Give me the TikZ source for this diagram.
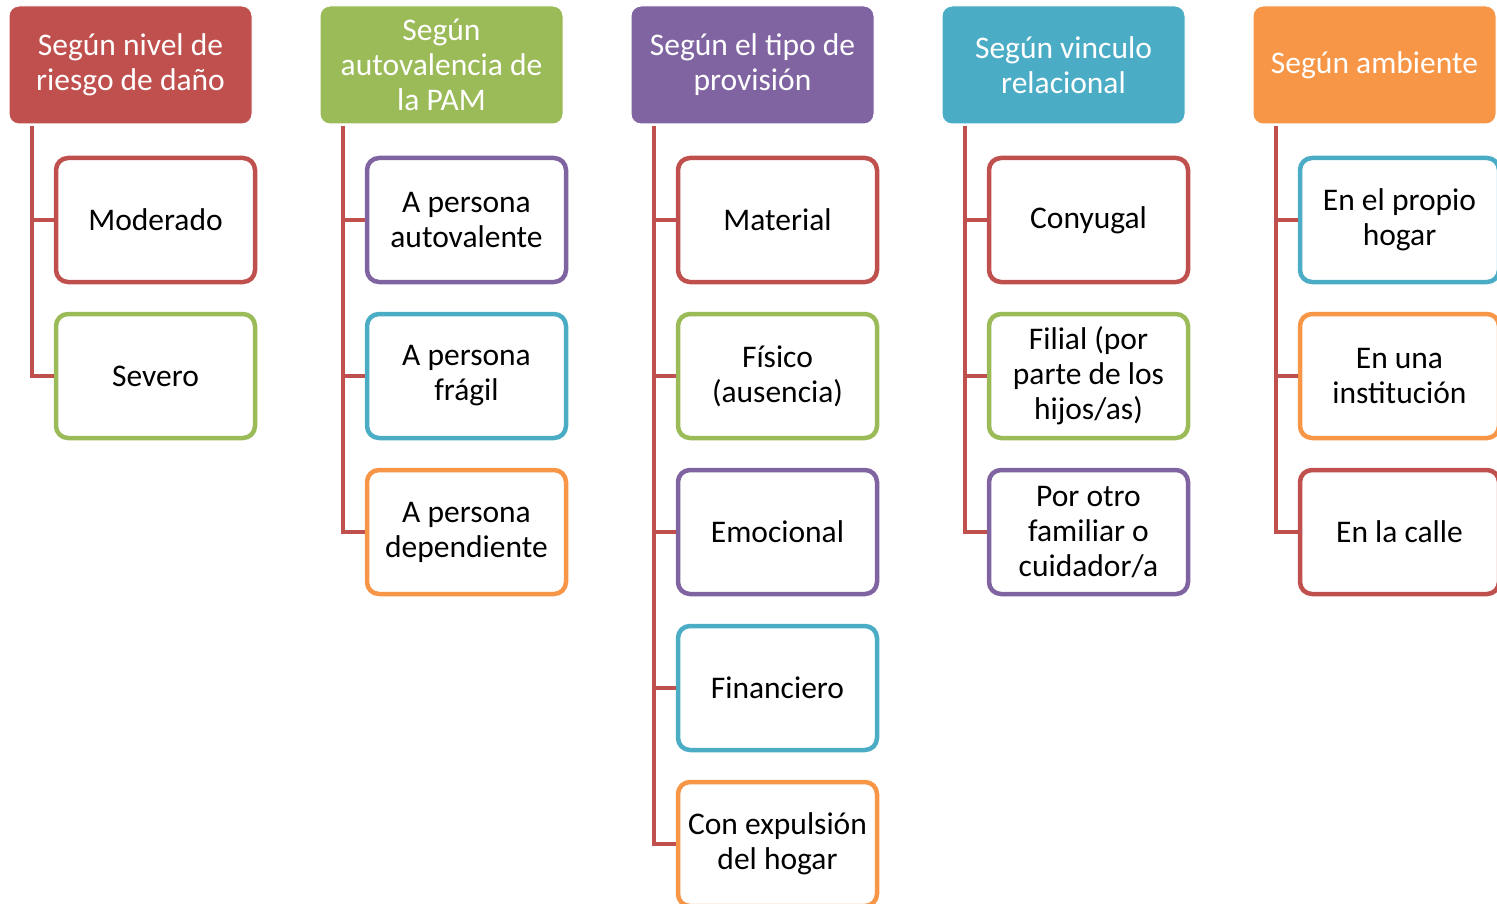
\documentclass[tikz,border=0pt]{standalone}
\usepackage{fontspec}
\setmainfont{Carlito}
\definecolor{cred}{HTML}{C0504D}
\definecolor{cgreen}{HTML}{9BBB59}
\definecolor{cpurple}{HTML}{8064A2}
\definecolor{caqua}{HTML}{4BACC6}
\definecolor{corange}{HTML}{F79646}
\tikzset{
  hdr/.style={rectangle, rounded corners=10pt, minimum width=243pt, minimum height=118pt, inner sep=0pt,
    text=white, align=center, font=\fontsize{31.5}{35}\selectfont, draw=white, line width=1pt},
  item/.style={rectangle, rounded corners=12pt, minimum width=199pt, minimum height=124pt, inner sep=0pt,
    fill=white, align=center, font=\fontsize{31.5}{35}\selectfont, line width=4.5pt},
  conn/.style={draw=cred, line width=4.5pt}
}
\begin{document}
\begin{tikzpicture}[x=1pt,y=-1pt]
\useasboundingbox (0,0) rectangle (1497,904);
% column 1
\node[hdr, fill=cred] (h1) at (130.5,65) {Según nivel de\\riesgo de daño};
\coordinate (t1) at (32,126);
\node[item, draw=cred] (c11) at (155.5,220) {Moderado};
\node[item, draw=cgreen] (c12) at (155.5,376) {Severo};
% column 2
\node[hdr, fill=cgreen] (h2) at (441.5,65) {Según\\autovalencia de\\la PAM};
\coordinate (t2) at (343,126);
\node[item, draw=cpurple] (c21) at (466.5,220) {A persona\\autovalente};
\node[item, draw=caqua] (c22) at (466.5,376) {A persona\\frágil};
\node[item, draw=corange] (c23) at (466.5,532) {A persona\\dependiente};
% column 3
\node[hdr, fill=cpurple] (h3) at (752.5,65) {Según el tipo de\\provisión};
\coordinate (t3) at (654,126);
\node[item, draw=cred] (c31) at (777.5,220) {Material};
\node[item, draw=cgreen] (c32) at (777.5,376) {Físico\\(ausencia)};
\node[item, draw=cpurple] (c33) at (777.5,532) {Emocional};
\node[item, draw=caqua] (c34) at (777.5,688) {Financiero};
\node[item, draw=corange] (c35) at (777.5,844) {Con expulsión\\del hogar};
% column 4
\node[hdr, fill=caqua] (h4) at (1063.5,65) {Según vinculo\\relacional};
\coordinate (t4) at (965,126);
\node[item, draw=cred] (c41) at (1088.5,220) {Conyugal};
\node[item, draw=cgreen] (c42) at (1088.5,376) {Filial (por\\parte de los\\hijos/as)};
\node[item, draw=cpurple] (c43) at (1088.5,532) {Por otro\\familiar o\\cuidador/a};
% column 5
\node[hdr, fill=corange] (h5) at (1374.5,65) {Según ambiente};
\coordinate (t5) at (1276,126);
\node[item, draw=caqua] (c51) at (1399.5,220) {En el propio\\hogar};
\node[item, draw=corange] (c52) at (1399.5,376) {En una\\institución};
\node[item, draw=cred] (c53) at (1399.5,532) {En la calle};
% connectors
\begin{scope}[on background layer/.style={}]
\draw[conn] (t1) |- (c12.west); \draw[conn] (t1) |- (c11.west);
\draw[conn] (t2) |- (c23.west); \draw[conn] (t2) |- (c22.west); \draw[conn] (t2) |- (c21.west);
\draw[conn] (t3) |- (c35.west); \draw[conn] (t3) |- (c34.west); \draw[conn] (t3) |- (c33.west); \draw[conn] (t3) |- (c32.west); \draw[conn] (t3) |- (c31.west);
\draw[conn] (t4) |- (c43.west); \draw[conn] (t4) |- (c42.west); \draw[conn] (t4) |- (c41.west);
\draw[conn] (t5) |- (c53.west); \draw[conn] (t5) |- (c52.west); \draw[conn] (t5) |- (c51.west);
\end{scope}
\end{tikzpicture}
\end{document}
